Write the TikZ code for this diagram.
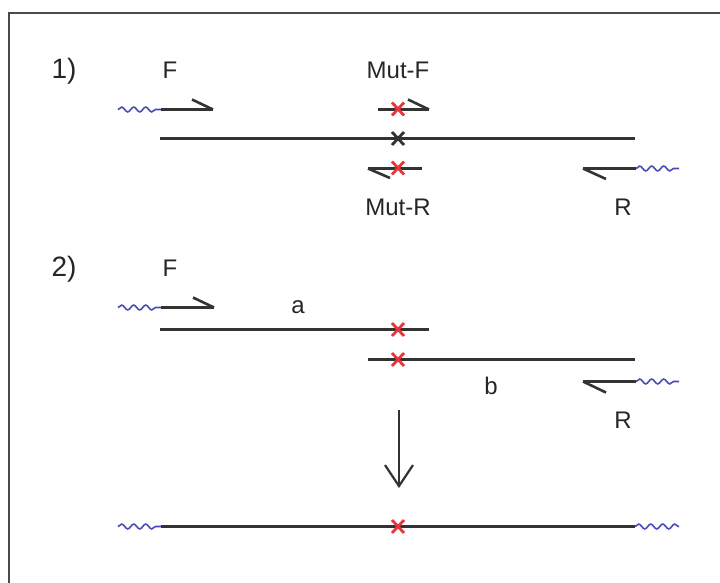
\documentclass[tikz,border=0pt]{standalone}
\usepackage{fontspec}
\setmainfont{Liberation Sans}
\usetikzlibrary{arrows.meta,decorations.pathmorphing,calc}
\definecolor{dna}{HTML}{333333}
\definecolor{mutred}{HTML}{E8343A}
\definecolor{tail}{HTML}{4A4AB8}
\definecolor{frame}{HTML}{4A4A4A}
\tikzset{
  strand/.style={draw=dna, line width=3pt},
  barb/.style={draw=dna, line width=2.6pt},
  tailline/.style={draw=tail, line width=1.6pt, decorate,
    decoration={snake, segment length=12pt, amplitude=2.4pt}},
  lab/.style={inner sep=0pt, font=\fontsize{24}{28}\selectfont, text=black!85},
  numlab/.style={inner sep=0pt, font=\fontsize{28}{32}\selectfont, text=black!85},
  redx/.style={draw=mutred, line width=2.8pt},
  blackx/.style={draw=dna, line width=2.8pt},
}
\newcommand{\crossmark}[2]{%
  \draw[#1] ($(#2)+(-6,-6.5)$) -- ($(#2)+(6,6.5)$);
  \draw[#1] ($(#2)+(-6,6.5)$) -- ($(#2)+(6,-6.5)$);}
\begin{document}
\begin{tikzpicture}[x=1pt,y=-1pt]
\useasboundingbox (0,0) rectangle (720,582);
\fill[white] (0,0) rectangle (720,582);
% frame
\draw[frame, line width=2pt] (9,590) -- (9,13) -- (730,13);

% ---------- part 1 ----------
\node[numlab] (n1) at (64,71) {1)};
\node[lab] (F1) at (170,70) {F};
\node[lab] (MF) at (398,70) {Mut-F};
\node[lab] (MR) at (398,207) {Mut-R};
\node[lab] (R1) at (623,207) {R};

% F primer
\coordinate (f1w) at (118,109.5);
\coordinate (f1a) at (161,109.5);
\coordinate (f1b) at (213,109.5);
\coordinate (f1c) at (192,99.5);
\draw[tailline] (f1w) -- (f1a);
\draw[strand] (f1a) -- (f1b);
\draw[barb] (f1b) -- (f1c);

% Mut-F primer
\coordinate (mfa) at (378,109.5);
\coordinate (mfb) at (429,109.5);
\coordinate (mfc) at (408,99.5);
\coordinate (mfx) at (398,109);
\draw[strand] (mfa) -- (mfb);
\draw[barb] (mfb) -- (mfc);
\crossmark{redx}{mfx}

% template
\coordinate (t1a) at (160,138.5);
\coordinate (t1b) at (635,138.5);
\coordinate (t1x) at (398,138.5);
\draw[strand] (t1a) -- (t1b);
\crossmark{blackx}{t1x}

% Mut-R primer
\coordinate (mra) at (368,168.5);
\coordinate (mrb) at (422,168.5);
\coordinate (mrc) at (390,178);
\coordinate (mrx) at (398,168);
\draw[strand] (mra) -- (mrb);
\draw[barb] (mra) -- (mrc);
\crossmark{redx}{mrx}

% R primer
\coordinate (r1a) at (583,168.5);
\coordinate (r1b) at (636,168.5);
\coordinate (r1c) at (606,179);
\coordinate (r1w) at (679,168.5);
\draw[strand] (r1a) -- (r1b);
\draw[barb] (r1a) -- (r1c);
\draw[tailline] (r1b) -- (r1w);

% ---------- part 2 ----------
\node[numlab] (n2) at (64,269) {2)};
\node[lab] (F2) at (170,268) {F};
\node[lab] (la) at (298,307) {a};
\node[lab] (lb) at (491,386) {b};
\node[lab] (R2) at (623,420) {R};

% F primer 2
\coordinate (f2w) at (118,307.5);
\coordinate (f2a) at (161,307.5);
\coordinate (f2b) at (214,307.5);
\coordinate (f2c) at (193,297.5);
\draw[tailline] (f2w) -- (f2a);
\draw[strand] (f2a) -- (f2b);
\draw[barb] (f2b) -- (f2c);

% product a
\coordinate (aa) at (160,329.5);
\coordinate (ab) at (429,329.5);
\coordinate (ax) at (398,329.5);
\draw[strand] (aa) -- (ab);
\crossmark{redx}{ax}

% product b
\coordinate (ba) at (368,359.5);
\coordinate (bb) at (635,359.5);
\coordinate (bx) at (398,359.5);
\draw[strand] (ba) -- (bb);
\crossmark{redx}{bx}

% R primer 2
\coordinate (r2a) at (583,381.5);
\coordinate (r2b) at (636,381.5);
\coordinate (r2c) at (606,392.5);
\coordinate (r2w) at (679,381.5);
\draw[strand] (r2a) -- (r2b);
\draw[barb] (r2a) -- (r2c);
\draw[tailline] (r2b) -- (r2w);

% arrow down
\coordinate (ar1) at (399,410);
\coordinate (ar2) at (399,488);
\draw[dna, line width=2pt, -{Straight Barb[length=21pt,width=28pt,line width=2.2pt]}] (ar1) -- (ar2);

% final product
\coordinate (pw1) at (118,526.5);
\coordinate (pa) at (161,526.5);
\coordinate (pb) at (635,526.5);
\coordinate (pw2) at (679,526.5);
\coordinate (px) at (398,526.5);
\draw[tailline] (pw1) -- (pa);
\draw[strand] (pa) -- (pb);
\draw[tailline] (pb) -- (pw2);
\crossmark{redx}{px}
\end{tikzpicture}
\end{document}
